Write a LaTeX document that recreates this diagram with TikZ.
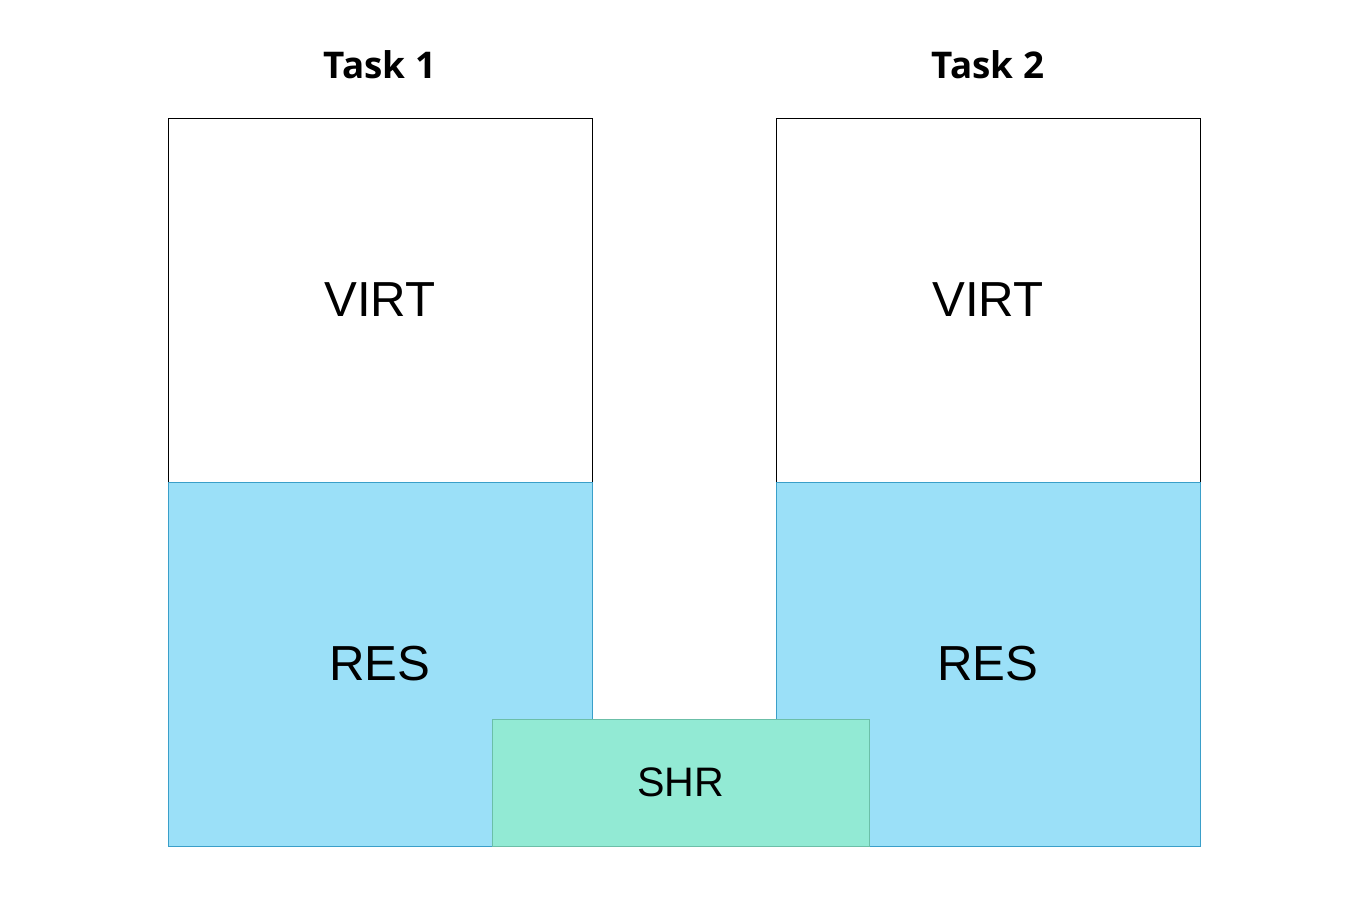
\documentclass[tikz,border=0pt]{standalone}
\usepackage{fontspec}
\setmainfont{Liberation Sans}
\newfontfamily\titlefont{Open Sans}
\definecolor{resfill}{HTML}{9BE0F8}
\definecolor{resline}{HTML}{3A9FC9}
\definecolor{shrfill}{HTML}{92EAD4}
\definecolor{shrline}{HTML}{6BBFA8}
\begin{document}
\begin{tikzpicture}[x=0.75pt,y=-0.75pt,
  bigtext/.style={font=\fontsize{36.9}{40}\selectfont},
  virtbox/.style={draw=black,line width=0.75pt,fill=white,minimum width=424*0.75pt,minimum height=364*0.75pt,inner sep=0pt,bigtext},
  resbox/.style={draw=resline,line width=0.75pt,fill=resfill,minimum width=424*0.75pt,minimum height=364*0.75pt,inner sep=0pt},
  shrbox/.style={draw=shrline,line width=0.75pt,fill=shrfill,minimum width=377*0.75pt,minimum height=127*0.75pt,inner sep=0pt,font=\fontsize{30.9}{34}\selectfont},
  title/.style={font=\titlefont\bfseries\fontsize{27.6}{32}\selectfont,inner sep=0pt}]
\useasboundingbox (0,0) rectangle (1365,910);
\node[virtbox] (virt1) at (380,300) {VIRT};
\node[resbox] (res1) at (380,664) {};
\node[bigtext] (res1t) at (380,664) {RES};
\node[virtbox] (virt2) at (988,300) {VIRT};
\node[resbox] (res2) at (988,664) {};
\node[bigtext] (res2t) at (988,664) {RES};
\node[shrbox] (shr) at (680.5,782.5) {SHR};
\node[title] (t1) at (380,65) {Task 1};
\node[title] (t2) at (988,65) {Task 2};
\end{tikzpicture}
\end{document}
